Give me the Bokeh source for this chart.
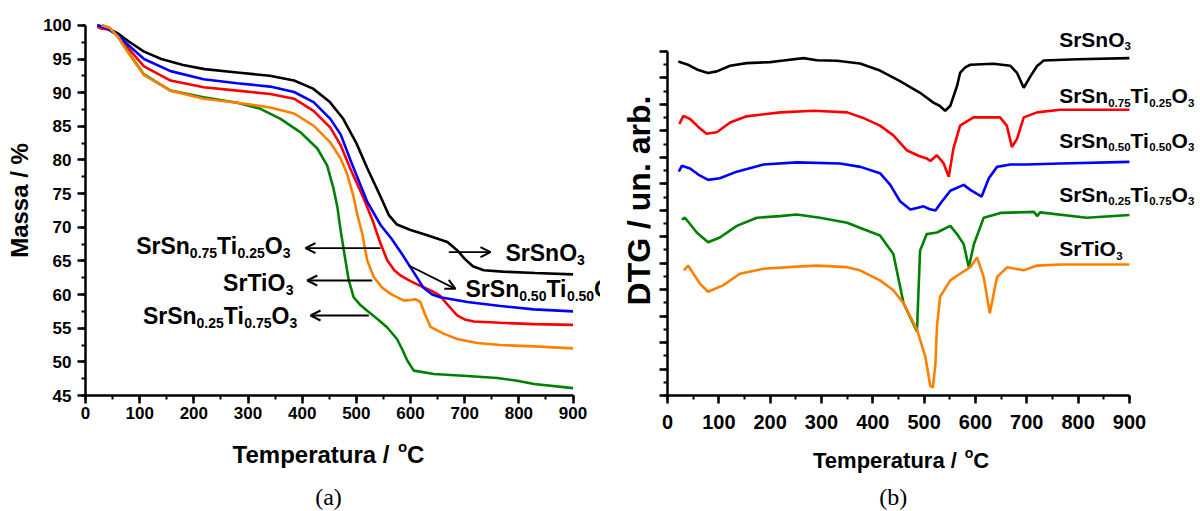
from bokeh.plotting import figure
from bokeh.layouts import row, column
from bokeh.models import Range1d, SingleIntervalTicker, Label, Arrow, OpenHead, CustomJSTickFormatter
from bokeh.embed import file_html
from bokeh.resources import INLINE

# ---------------- (a) TG data: temperature (°C) / mass (%) ----------------
tg_T_SrSnO3 = [22, 40, 60, 80, 108, 140, 180, 220, 280, 340, 385, 420, 450, 475, 500, 520, 545, 560, 575, 600, 631, 668, 686, 700, 715, 735, 770, 830, 900]
tg_M_SrSnO3 = [100.0, 99.6, 98.8, 97.6, 96.1, 95.0, 94.1, 93.5, 93.0, 92.5, 91.8, 90.6, 88.7, 86.2, 82.5, 78.8, 74.5, 71.8, 70.4, 69.6, 68.8, 67.8, 66.6, 65.3, 64.2, 63.6, 63.4, 63.2, 63.0]

tg_T_Sn075 = [22, 30, 45, 60, 80, 108, 157, 218, 280, 341, 385, 421, 452, 471, 489, 514, 530, 545, 557, 570, 582, 600, 618, 640, 655, 665, 674, 686, 700, 717, 766, 828, 900]
tg_M_Sn075 = [99.8, 99.5, 99.4, 98.4, 96.5, 93.9, 91.8, 90.8, 90.3, 89.8, 89.1, 87.3, 84.8, 82.2, 78.7, 74.2, 71.0, 67.5, 65.1, 63.6, 62.8, 62.0, 61.3, 60.5, 59.8, 58.8, 58.0, 56.9, 56.3, 56.0, 55.8, 55.6, 55.5]

tg_T_Sn050 = [22, 40, 60, 80, 108, 157, 218, 280, 341, 385, 421, 452, 471, 489, 505, 520, 545, 565, 582, 606, 624, 640, 655, 705, 766, 828, 900]
tg_M_Sn050 = [100.0, 99.5, 98.5, 97.0, 95.0, 93.2, 92.0, 91.4, 90.9, 90.1, 88.6, 86.1, 83.8, 80.0, 76.8, 73.8, 70.3, 68.3, 66.3, 63.3, 61.0, 60.0, 59.6, 58.9, 58.3, 57.8, 57.5]

tg_T_Sn025 = [30, 45, 60, 80, 108, 157, 218, 280, 323, 360, 397, 428, 446, 458, 465, 471, 477, 486, 495, 508, 520, 540, 557, 575, 585, 594, 606, 643, 705, 760, 797, 828, 900]
tg_M_Sn025 = [100.0, 99.6, 98.3, 95.9, 92.7, 90.3, 89.3, 88.5, 87.6, 86.1, 84.1, 81.7, 79.2, 75.7, 73.0, 69.5, 66.5, 62.1, 59.6, 58.4, 57.6, 56.3, 55.1, 53.4, 51.8, 50.2, 48.7, 48.2, 47.9, 47.6, 47.2, 46.7, 46.1]

tg_T_SrTiO3 = [30, 45, 60, 80, 108, 157, 218, 280, 341, 385, 421, 452, 471, 483, 495, 502, 511, 520, 532, 548, 563, 588, 600, 609, 618, 628, 637, 661, 686, 723, 766, 828, 900]
tg_M_SrTiO3 = [100.0, 99.6, 98.3, 95.8, 92.6, 90.3, 89.1, 88.5, 87.8, 86.9, 85.1, 82.6, 80.2, 77.9, 74.5, 71.8, 69.0, 65.1, 62.6, 61.0, 60.1, 59.1, 59.2, 59.3, 58.9, 56.8, 55.2, 54.2, 53.4, 52.8, 52.5, 52.3, 52.0]

# ---------------- (b) DTG data: temperature (°C) / offset signal (arb.) ----------------
dtg_T_SrSnO3 = [21, 40, 60, 79, 96, 122, 154, 200, 226, 265, 291, 330, 375, 414, 453, 492, 518, 530, 541, 551, 564, 570, 580, 590, 635, 668, 681, 694, 707, 720, 733, 798, 900]
dtg_Y_SrSnO3 = [12.62, 12.50, 12.30, 12.19, 12.25, 12.46, 12.56, 12.60, 12.66, 12.75, 12.67, 12.65, 12.55, 12.28, 11.88, 11.44, 11.07, 10.95, 10.76, 10.95, 11.69, 12.19, 12.40, 12.50, 12.54, 12.46, 12.19, 11.63, 12.06, 12.45, 12.66, 12.71, 12.75]

dtg_T_Sn075 = [23, 31, 44, 60, 76, 96, 122, 154, 220, 285, 350, 380, 414, 440, 466, 490, 505, 512, 525, 538, 548, 557, 570, 596, 648, 661, 671, 681, 694, 720, 765, 900]
dtg_Y_Sn075 = [10.26, 10.57, 10.45, 10.15, 9.89, 9.95, 10.32, 10.55, 10.70, 10.76, 10.70, 10.50, 10.20, 9.83, 9.27, 9.05, 8.96, 8.86, 9.08, 8.77, 8.27, 9.33, 10.20, 10.51, 10.51, 10.20, 9.39, 9.70, 10.51, 10.70, 10.80, 10.80]

dtg_T_Sn050 = [22, 28, 44, 60, 79, 102, 135, 187, 252, 336, 376, 414, 434, 453, 473, 486, 499, 510, 522, 535, 551, 577, 590, 612, 626, 642, 668, 700, 765, 900]
dtg_Y_Sn050 = [8.46, 8.68, 8.58, 8.35, 8.15, 8.21, 8.46, 8.73, 8.81, 8.77, 8.64, 8.40, 7.96, 7.34, 7.03, 7.09, 7.15, 7.05, 6.99, 7.34, 7.74, 7.96, 7.77, 7.52, 8.21, 8.64, 8.73, 8.73, 8.77, 8.83]

dtg_T_Sn025 = [28, 34, 57, 79, 102, 135, 174, 219, 252, 297, 350, 382, 414, 440, 460, 473, 486, 492, 505, 525, 551, 564, 577, 587, 597, 616, 649, 714, 720, 726, 817, 900]
dtg_Y_Sn025 = [6.65, 6.72, 6.16, 5.79, 5.97, 6.41, 6.72, 6.78, 6.84, 6.72, 6.53, 6.28, 6.05, 5.35, 3.48, 2.95, 2.42, 5.47, 6.10, 6.16, 6.41, 6.10, 5.72, 4.85, 5.72, 6.72, 6.90, 6.94, 6.78, 6.92, 6.72, 6.82]

dtg_T_SrTiO3 = [32, 40, 63, 79, 109, 141, 187, 252, 291, 350, 375, 414, 440, 460, 486, 502, 512, 517, 522, 525, 531, 551, 570, 590, 603, 616, 628, 642, 662, 694, 720, 765, 900]
dtg_Y_SrTiO3 = [4.73, 4.91, 4.23, 3.92, 4.17, 4.60, 4.79, 4.87, 4.91, 4.85, 4.73, 4.35, 3.98, 3.48, 2.49, 1.49, 0.37, 0.30, 1.20, 2.61, 3.73, 4.35, 4.60, 4.85, 5.22, 4.48, 3.11, 4.48, 4.85, 4.73, 4.91, 4.95, 4.95]

series_colors = ["#000000", "#ff0000", "#0000ff", "#008000", "#ff8000"]
x_ticks_interval = 100

FONT = "Liberation Sans"
SERIF = "Liberation Serif"
ADV = {'S': 667, 'r': 389, 'n': 611, 'T': 611, 'i': 278, 'O': 778, '.': 278, 'o': 611,
       'C': 722, 'e': 556, 'm': 889, 'p': 611, 'a': 556, 't': 333, 'u': 611, ' ': 278, '/': 278}
for d in "0123456789":
    ADV[d] = 556


def text_w(s, size):
    return sum(ADV.get(c, 600) for c in s) * size / 1000.0


def rich(p, x, y, parts, size, sub_size, ppu, align="left", drop=7.0, rise=8.0, sup_size=15, lift=6.0):
    sizes = []
    for t, kind in parts:
        sizes.append(size if kind == "main" else (sub_size if kind == "sub" else sup_size))
    widths = [text_w(t, s) for (t, _), s in zip(parts, sizes)]
    total = sum(widths)
    start = 0.0 if align == "left" else (-total if align == "right" else -total / 2.0)
    cum = start
    for (t, kind), s, w in zip(parts, sizes, widths):
        dy = lift + (0.0 if kind == "main" else (-drop if kind == "sub" else rise))
        p.add_layout(Label(x=x, y=y + dy / ppu, x_offset=cum, text=t,
                           text_font=FONT, text_font_style="bold",
                           text_font_size=f"{s}px", text_baseline="alphabetic",
                           text_align="left", text_color="black"))
        cum += w


def formula(a, b):
    return [("SrSn", "main"), (a, "sub"), ("Ti", "main"), (b, "sub"), ("O", "main"), ("3", "sub")]


def style_axes(p, tick_size):
    for ax in (p.xaxis, p.yaxis):
        ax.axis_line_width = 2.5
        ax.major_tick_line_width = 2.5
        ax.minor_tick_line_width = 2
        ax.major_tick_out = 8
        ax.major_tick_in = 0
        ax.minor_tick_out = 4
        ax.minor_tick_in = 0
        ax.major_label_text_font = FONT
        ax.major_label_text_font_style = "bold"
        ax.major_label_text_font_size = f"{tick_size}px"
        ax.major_label_text_color = "black"
        ax.axis_label_text_font = FONT
        ax.axis_label_text_font_style = "bold"
        ax.axis_label_text_color = "black"
    p.xgrid.visible = False
    p.ygrid.visible = False
    p.outline_line_color = None
    p.background_fill_color = "white"
    p.border_fill_color = "white"


def caption_fig(x_range, left):
    c = figure(width=600, height=71, x_range=x_range, y_range=Range1d(0, 71),
               x_axis_type=None, y_axis_type=None, output_backend="svg", toolbar_location=None,
               min_border_left=left, min_border_right=0, min_border_top=0, min_border_bottom=0)
    c.xgrid.visible = False
    c.ygrid.visible = False
    c.outline_line_color = None
    return c


# ---------------- panel (a) ----------------
PPU_A = 6.73
pa = figure(width=600, height=440, x_range=Range1d(0, 950.7), y_range=Range1d(45, 102.95),
            output_backend="svg", toolbar_location=None,
            min_border_left=85, min_border_right=0, min_border_top=5, min_border_bottom=45)
style_axes(pa, 17)
pa.xaxis.ticker = SingleIntervalTicker(interval=x_ticks_interval, num_minor_ticks=2)
pa.yaxis.ticker = SingleIntervalTicker(interval=5, num_minor_ticks=2)
pa.xaxis.bounds = (0, 900)
pa.yaxis.bounds = (45, 100)
pa.xaxis.major_label_standoff = 3
pa.yaxis.major_label_standoff = 6
pa.yaxis.axis_label = "Massa / %"
pa.yaxis.axis_label_text_font_size = "24px"
pa.yaxis.axis_label_standoff = 7

tg = [(tg_T_SrSnO3, tg_M_SrSnO3), (tg_T_Sn075, tg_M_Sn075), (tg_T_Sn050, tg_M_Sn050),
      (tg_T_Sn025, tg_M_Sn025), (tg_T_SrTiO3, tg_M_SrTiO3)]
for (xs, ys), c in zip(tg, series_colors):
    pa.line(xs, ys, line_color=c, line_width=2.6)

rich(pa, 378.4, 66.37, formula("0.75", "0.25"), 23, 14, PPU_A, align="right")
rich(pa, 384.0, 60.87, [("SrTiO", "main"), ("3", "sub")], 23, 14, PPU_A, align="right")
rich(pa, 390.8, 55.97, formula("0.25", "0.75"), 23, 14, PPU_A, align="right")
rich(pa, 775.3, 65.33, [("SrSnO", "main"), ("3", "sub")], 23, 14, PPU_A)
rich(pa, 701.5, 59.87, formula("0.50", "0.50"), 23, 14, PPU_A)

arrows_a = [(544.6, 66.89, 406.1, 66.89), (529.3, 62.09, 409.3, 62.09), (523.0, 56.89, 415.4, 56.89),
            (670.7, 66.29, 747.6, 66.29), (596.8, 64.32, 683.0, 60.85)]
for x0, y0, x1, y1 in arrows_a:
    pa.add_layout(Arrow(end=OpenHead(size=10, line_width=2, line_color="black"),
                        x_start=x0, y_start=y0, x_end=x1, y_end=y1,
                        line_width=1.8, line_color="black"))

ca = caption_fig(pa.x_range, 85)
rich(ca, 448.6, 49.4, [("Temperatura / ", "main"), ("o", "sup"), ("C", "main")], 24, 14, 1.0, align="center", lift=8.0)
ca.add_layout(Label(x=448.6, y=15, text="(a)", text_font=SERIF, text_font_size="24px",
                    text_align="center", text_baseline="middle", text_color="black"))

# ---------------- panel (b) ----------------
PPU_B = 26.8
pb = figure(width=600, height=440, x_range=Range1d(0, 1038.4), y_range=Range1d(0, 14.739),
            output_backend="svg", toolbar_location=None,
            min_border_left=67, min_border_right=0, min_border_top=5, min_border_bottom=40)
style_axes(pb, 20)
pb.xaxis.ticker = SingleIntervalTicker(interval=x_ticks_interval, num_minor_ticks=2)
pb.yaxis.ticker = SingleIntervalTicker(interval=1, num_minor_ticks=2)
pb.xaxis.bounds = (0, 900)
pb.yaxis.bounds = (0, 13)
pb.xaxis.major_label_standoff = 11
pb.yaxis.formatter = CustomJSTickFormatter(code="return ''")
pb.yaxis.major_label_standoff = 0
pb.yaxis.axis_label = "DTG / un. arb."
pb.yaxis.axis_label_text_font_size = "32px"
pb.yaxis.axis_label_standoff = 3

dtg = [(dtg_T_SrSnO3, dtg_Y_SrSnO3), (dtg_T_Sn075, dtg_Y_Sn075), (dtg_T_Sn050, dtg_Y_Sn050),
       (dtg_T_Sn025, dtg_Y_Sn025), (dtg_T_SrTiO3, dtg_Y_SrTiO3)]
for (xs, ys), c in zip(dtg, series_colors):
    pb.line(xs, ys, line_color=c, line_width=2.6)

LX = 763.0
rich(pb, LX, 13.23, [("SrSnO", "main"), ("3", "sub")], 21, 11.5, PPU_B)
rich(pb, LX, 11.11, formula("0.75", "0.25"), 21, 11.5, PPU_B)
rich(pb, LX, 9.43, formula("0.50", "0.50"), 21, 11.5, PPU_B)
rich(pb, LX, 7.38, formula("0.25", "0.75"), 21, 11.5, PPU_B)
rich(pb, LX, 5.32, [("SrTiO", "main"), ("3", "sub")], 21, 11.5, PPU_B)

cb = caption_fig(pb.x_range, 67)
rich(cb, 455.0, 45.0, [("Temperatura / ", "main"), ("o", "sup"), ("C", "main")], 22, 13, 1.0, align="center", sup_size=14)
cb.add_layout(Label(x=439.6, y=15, text="(b)", text_font=SERIF, text_font_size="24px",
                    text_align="center", text_baseline="middle", text_color="black"))

layout = column(row(pa, pb), row(ca, cb))
open("out.html", "w").write(file_html(layout, INLINE))
